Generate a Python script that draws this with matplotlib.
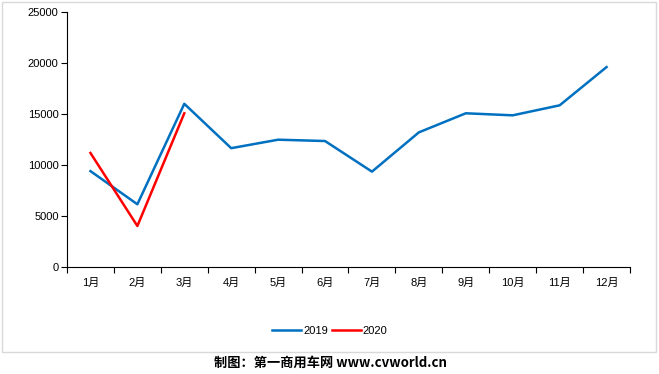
import matplotlib
matplotlib.use("Agg")
import matplotlib.pyplot as plt
from matplotlib.patches import Rectangle
import numpy as np

plt.rcParams['font.family'] = ['Liberation Sans', 'Noto Sans CJK SC', 'DejaVu Sans']

months = ['1月', '2月', '3月', '4月', '5月', '6月', '7月', '8月', '9月', '10月', '11月', '12月']
sales_2019 = [9400, 6150, 16000, 11650, 12480, 12350, 9350, 13200, 15070, 14870, 15850, 19600]
sales_2020 = [11180, 4020, 15070]
yticks = [0, 5000, 10000, 15000, 20000, 25000]

W, H = 659, 374
fig = plt.figure(figsize=(W / 100, H / 100), dpi=100)

# outer chart border
fig.patches.append(Rectangle((2 / W, 1 - 352 / H), 654 / W, 350 / H, transform=fig.transFigure,
                             fill=False, edgecolor='#d9d9d9', linewidth=1.0))

ax = fig.add_axes([67 / W, 1 - 267 / H, (630 - 67) / W, (267 - 12) / H])
x = np.arange(len(months))
ax.plot(x, sales_2019, color='#0070c0', linewidth=1.8, label='2019')
ax.plot(x[:len(sales_2020)], sales_2020, color='#ff0000', linewidth=1.8, label='2020')

ax.set_xlim(-0.5, len(months) - 0.5)
ax.set_ylim(0, 25000)
ax.set_yticks(yticks)
ax.set_yticklabels([str(v) for v in yticks], fontsize=8)
ax.set_xticks(x)
ax.set_xticklabels(months, fontsize=8)
ax.set_xticks(np.arange(-0.5, len(months)), minor=True)
ax.tick_params(axis='x', which='major', length=0, pad=8)
ax.tick_params(axis='x', which='minor', length=4, direction='out', width=0.8)
ax.tick_params(axis='y', length=4, direction='out', width=0.8, pad=2)
for s in ['top', 'right']:
    ax.spines[s].set_visible(False)
for s in ['left', 'bottom']:
    ax.spines[s].set_color('black')
    ax.spines[s].set_linewidth(0.8)

fig.legend(loc='center', bbox_to_anchor=(330 / W, 1 - 331 / H), ncol=2, frameon=False,
           fontsize=8, handlelength=2.6, handletextpad=0.2, columnspacing=0.3)

fig.text(330 / W, 1 - 363 / H, '制图：第一商用车网 www.cvworld.cn', ha='center', va='center',
         fontsize=9.5, fontweight='bold', family=['Noto Sans CJK SC', 'DejaVu Sans'])

fig.savefig('out.png', dpi=100)
